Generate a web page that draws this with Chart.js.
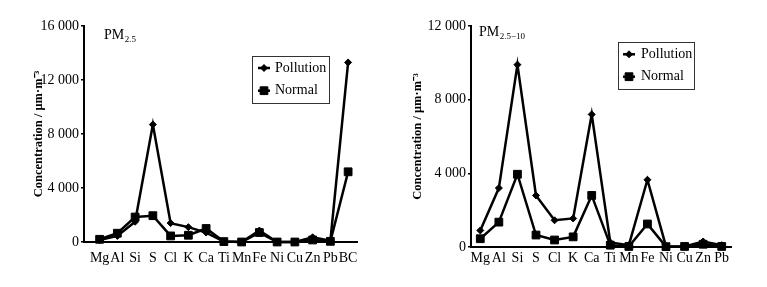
<!DOCTYPE html>
<html><head><meta charset="utf-8">
<script src="https://cdn.jsdelivr.net/npm/chart.js@4"></script>
<style>body{margin:0;background:#fff;} canvas{position:absolute;top:0;}</style>
</head><body>
<canvas id="c1" width="383" height="287" style="left:0"></canvas>
<canvas id="c2" width="383" height="287" style="left:384px"></canvas>
<script>
const pm25Elements = ['Mg','Al','Si','S','Cl','K','Ca','Ti','Mn','Fe','Ni','Cu','Zn','Pb','BC'];
const pm25Pollution = [150,450,1500,8700,1400,1100,700,30,0,850,0,0,350,100,13300];
const pm25Normal = [200,650,1850,1950,450,500,1000,30,0,700,0,0,150,50,5200];
const pm25Ticks = [0,4000,8000,12000,16000];

const pm10Elements = ['Mg','Al','Si','S','Cl','K','Ca','Ti','Mn','Fe','Ni','Cu','Zn','Pb'];
const pm10Pollution = [900,3200,9900,2800,1450,1550,7200,250,100,3650,30,30,300,100];
const pm10Normal = [450,1350,3950,650,380,550,2800,100,30,1250,20,30,150,30];
const pm10Ticks = [0,4000,8000,12000];

const seriesNames = ['Pollution','Normal'];
const yTitle = 'Concentration / μm·m⁻³';
const FONT = "'Liberation Serif', 'Times New Roman', serif";

function fmt(v){ return String(v).replace(/\B(?=(\d{3})+(?!\d))/g,' '); }

const boxLegend = {
  id:'boxLegend',
  afterDraw(chart, args, o){
    const ctx = chart.ctx;
    ctx.save();
    ctx.strokeStyle = '#333'; ctx.lineWidth = 1;
    ctx.strokeRect(o.x+0.5, o.y+0.5, o.w, o.h);
    chart.data.datasets.forEach((ds,i)=>{
      const y = o.rows[i];
      ctx.strokeStyle = '#000'; ctx.lineWidth = 2.5;
      ctx.beginPath(); ctx.moveTo(o.lx0,y); ctx.lineTo(o.lx1,y); ctx.stroke();
      ctx.fillStyle = '#000'; ctx.strokeStyle = '#000'; ctx.lineWidth = 1;
      Chart.helpers.drawPoint(ctx,{pointStyle:ds.pointStyle,radius:ds.pointRadius,borderWidth:1,rotation:0},(o.lx0+o.lx1)/2,y);
      ctx.fillStyle = '#000';
      ctx.font = "14px " + FONT;
      ctx.textBaseline = 'middle'; ctx.textAlign = 'left';
      ctx.fillText(ds.label, o.tx, y);
    });
    ctx.restore();
  }
};
const pmLabel = {
  id:'pmLabel',
  afterDraw(chart, args, o){
    const ctx = chart.ctx;
    ctx.save();
    ctx.fillStyle = '#000'; ctx.textBaseline = 'middle'; ctx.textAlign='left';
    ctx.font = "14px " + FONT;
    ctx.fillText('PM', o.x, o.y);
    const w = ctx.measureText('PM').width;
    ctx.font = "9px " + FONT;
    ctx.fillText(o.sub, o.x + w + 0.5, o.y + 5);
    ctx.restore();
  }
};

function makeChart(id, cats, pol, nor, yticks, cfg){
  return new Chart(document.getElementById(id), {
    type:'line',
    data:{datasets:[
      {label:seriesNames[0], data:pol.map((v,i)=>({x:i,y:v})), borderColor:'#000', backgroundColor:'#000',
       borderWidth:2.5, pointStyle:'rectRot', pointRadius:3.5, pointBorderWidth:1, tension:0, clip:false},
      {label:seriesNames[1], data:nor.map((v,i)=>({x:i,y:v})), borderColor:'#000', backgroundColor:'#000',
       borderWidth:2.5, pointStyle:'rect', pointRadius:5.5, pointBorderWidth:1, tension:0, clip:false}
    ]},
    plugins:[boxLegend, pmLabel],
    options:{
      responsive:false, animation:false, events:[],
      layout:{padding:{left:0, top:26, right:cfg.padRight, bottom:0}},
      plugins:{legend:{display:false}, tooltip:{enabled:false},
        boxLegend:cfg.legend, pmLabel:cfg.pm},
      scales:{
        x:{type:'linear', bounds:'data', min:cfg.xmin, max:cfg.xmax,
           afterFit:s=>{s.height = cfg.xHeight;},
           afterBuildTicks:s=>{s.ticks = cats.map((_,i)=>({value:i}));},
           grid:{display:false, drawTicks:false},
           border:{display:true, color:'#000', width:2},
           ticks:{autoSkip:false, maxRotation:0, minRotation:0, padding:cfg.xPad, color:'#000',
             font:{family:FONT, size:14}, callback:v=>cats[v]}
        },
        y:{min:0, max:yticks[yticks.length-1],
           afterFit:s=>{s.width = cfg.yWidth;},
           afterBuildTicks:s=>{s.ticks = yticks.map(v=>({value:v}));},
           grid:{display:true, drawOnChartArea:false, drawTicks:true, tickLength:3, color:'#000', lineWidth:1.5},
           border:{display:true, color:'#000', width:2},
           ticks:{padding:2, color:'#000', font:{family:FONT, size:14}, callback:v=>fmt(v)},
           title:{display:true, text:yTitle, color:'#000', padding:{top:cfg.titlePad, bottom:0},
             font:{family:FONT, size:12.5, weight:'bold'}}
        }
      }
    }
  });
}

makeChart('c1', pm25Elements, pm25Pollution, pm25Normal, pm25Ticks, {
  padRight:26, xmin:-0.88, xmax:14.5, xHeight:45, xPad:8, yWidth:84, titlePad:31,
  legend:{x:252, y:56, w:77, h:47, rows:[68,90.7], lx0:258, lx1:270, tx:275},
  pm:{x:104, y:35, sub:'2.5'}
});
makeChart('c2', pm10Elements, pm10Pollution, pm10Normal, pm10Ticks, {
  padRight:36, xmin:-0.5, xmax:13.5, xHeight:40, xPad:3, yWidth:87, titlePad:26,
  legend:{x:234, y:42, w:76, h:47, rows:[54.3,76.7], lx0:239, lx1:251, tx:257},
  pm:{x:95, y:32, sub:'2.5−10'}
});
</script>
</body></html>
